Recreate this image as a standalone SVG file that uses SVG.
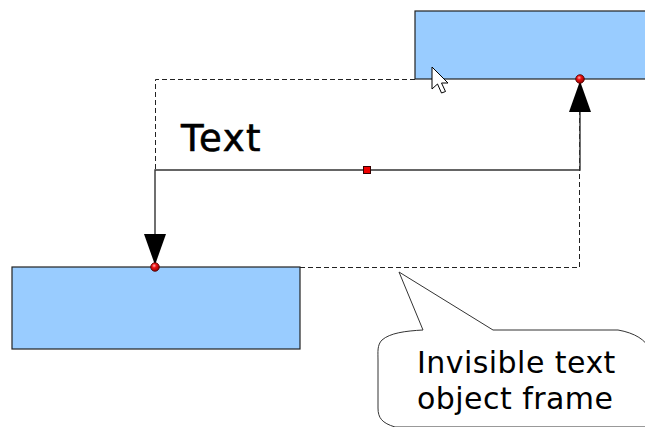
<svg xmlns="http://www.w3.org/2000/svg" width="645" height="427" viewBox="0 0 645 427">
  <style>
    .box { fill: #99ccff; stroke: #222; stroke-width: 1.2; }
    .frame { fill: none; stroke: #222; stroke-width: 1; stroke-dasharray: 5 3; }
    .conn { fill: none; stroke: #333; stroke-width: 1.4; }
    .glue { fill: url(#redball); stroke: #400; stroke-width: 0.8; }
    .handle { fill: #ee0000; stroke: #300; stroke-width: 1; }
    .bubble { fill: #fff; stroke: #333; stroke-width: 1; }
    .lbl { font-family: "DejaVu Sans", sans-serif; fill: #000; }
  </style>
  <defs>
    <radialGradient id="redball" cx="0.4" cy="0.35" r="0.7">
      <stop offset="0" stop-color="#ffb0b0"/>
      <stop offset="0.35" stop-color="#ee1111"/>
      <stop offset="1" stop-color="#880000"/>
    </radialGradient>
    <marker id="arrow" markerUnits="userSpaceOnUse" viewBox="0 0 31 22" refX="31" refY="11" markerWidth="31" markerHeight="22" orient="auto-start-reverse">
      <path d="M0,0 L31,11 L0,22 Z" fill="#000"/>
    </marker>
  </defs>
  <rect width="645" height="427" fill="#fff"/>

  <g id="box-top">
    <rect class="box" x="415" y="11" width="240" height="68"/>
  </g>
  <g id="box-bottom">
    <rect class="box" x="12" y="267" width="288" height="82"/>
  </g>

  <g id="text-frame">
    <path class="frame" d="M300,267.5 H579.5 V79.5 M415,79.5 H155.5 V170"/>
    <text class="lbl" x="181" y="151" font-size="37" letter-spacing="1.6" stroke="#000" stroke-width="0.6">Text</text>
  </g>

  <g id="connectors">
    <path class="conn" d="M580,81 V170 H155 V265" marker-start="url(#arrow)" marker-end="url(#arrow)"/>
    <circle class="glue" cx="580" cy="79" r="4.3"/>
    <circle class="glue" cx="155" cy="267" r="4.3"/>
    <rect class="handle" x="363.5" y="166.5" width="7" height="7"/>
  </g>

  <g id="cursor">
    <path d="M432,67 L432,89 L437.5,84 L441.5,93 L445.5,91.5 L441.5,83 L448,83 Z" fill="#fff" stroke="#000" stroke-width="1" stroke-linejoin="round"/>
  </g>

  <g id="callout">
    <path class="bubble" d="M399,272 L423,330 C405,331 390,333 382,340 C377,345 378,352 378,360 L378,408 C378,418 382,423 395,427 L650,427 L650,350 C646,340 635,333 618,330 L493,330 Z"/>
    <text class="lbl" x="417" y="373" font-size="30" letter-spacing="0.45">Invisible text</text>
    <text class="lbl" x="417" y="409" font-size="30" letter-spacing="0.45">object frame</text>
  </g>
</svg>
